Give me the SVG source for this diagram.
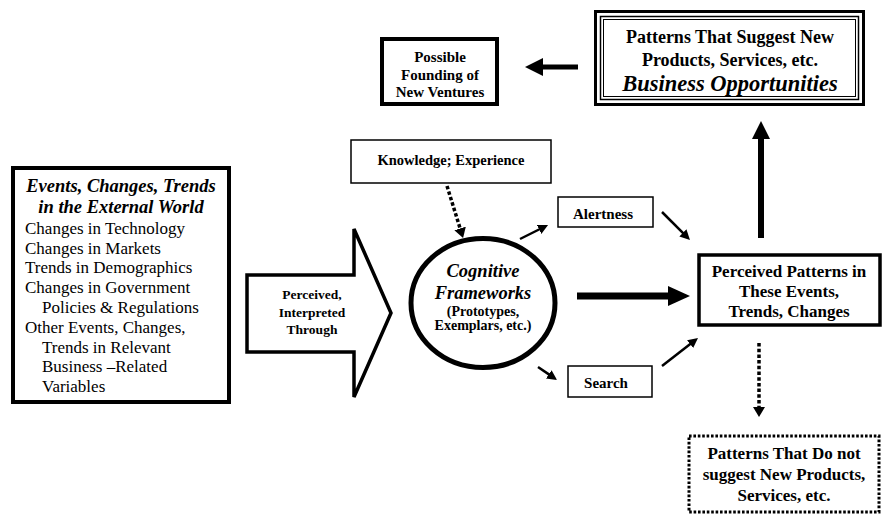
<svg xmlns="http://www.w3.org/2000/svg" width="894" height="523" viewBox="0 0 894 523">
<style>
text{font-family:"Liberation Serif","Times New Roman",serif;fill:#000}
.b{font-weight:bold;text-anchor:middle}
.bi{font-weight:bold;font-style:italic;text-anchor:middle}
.r{font-size:17px}
.box{fill:#fff;stroke:#000}
.thin{stroke:#000;stroke-width:2.5;fill:none}
.dot{stroke:#000;stroke-width:3.5;fill:none;stroke-dasharray:3.5 2.2}
</style>
<defs>
<marker id="hThin" markerUnits="userSpaceOnUse" markerWidth="12" markerHeight="12" refX="1" refY="5" orient="auto"><path d="M0,0 L10,5 L0,10 z" fill="#000"/></marker>
<marker id="hDot" markerUnits="userSpaceOnUse" markerWidth="12" markerHeight="14" refX="1" refY="6" orient="auto"><path d="M0,0 L10,6 L0,12 z" fill="#000"/></marker>
<marker id="hBig" markerUnits="userSpaceOnUse" markerWidth="20" markerHeight="20" refX="2" refY="9" orient="auto"><path d="M0,0 L18,9 L0,18 z" fill="#000"/></marker>
<marker id="hHuge" markerUnits="userSpaceOnUse" markerWidth="24" markerHeight="22" refX="2" refY="10" orient="auto"><path d="M0,0 L22,10 L0,20 z" fill="#000"/></marker>
</defs>

<g id="external-world">
<rect class="box" x="13" y="168" width="216" height="234" stroke-width="4"/>
<text class="bi" x="121" y="192" font-size="18.5">Events, Changes, Trends</text>
<text class="bi" x="121" y="213" font-size="18.5">in the External World</text>
<text class="r" x="25" y="234">Changes in Technology</text>
<text class="r" x="25" y="254">Changes in Markets</text>
<text class="r" x="25" y="273">Trends in Demographics</text>
<text class="r" x="25" y="293">Changes in Government</text>
<text class="r" x="42" y="313">Policies &amp; Regulations</text>
<text class="r" x="25" y="333">Other Events, Changes,</text>
<text class="r" x="42" y="353">Trends in Relevant</text>
<text class="r" x="42" y="372">Business –Related</text>
<text class="r" x="42" y="392">Variables</text>
</g>

<g id="perceived-through">
<polygon points="247,275 354,275 354,229 391,313 354,397 354,352 247,352" fill="#fff" stroke="#000" stroke-width="3.5" stroke-linejoin="miter"/>
<text class="b" x="312" y="299" font-size="13.5">Perceived,</text>
<text class="b" x="312" y="317" font-size="13.5">Interpreted</text>
<text class="b" x="312" y="334" font-size="13.5">Through</text>
</g>

<g id="knowledge">
<rect class="box" x="351" y="140" width="200" height="43" stroke-width="1.5"/>
<text class="b" x="451" y="165" font-size="14.5">Knowledge; Experience</text>
</g>

<g id="cognitive-frameworks">
<ellipse cx="483" cy="303" rx="72" ry="64.5" fill="#fff" stroke="#000" stroke-width="5"/>
<text class="bi" x="483" y="277" font-size="18.5">Cognitive</text>
<text class="bi" x="483" y="299" font-size="18.5">Frameworks</text>
<text class="b" x="483" y="316" font-size="14">(Prototypes,</text>
<text class="b" x="483" y="330" font-size="14">Exemplars, etc.)</text>
</g>

<g id="alertness">
<rect class="box" x="558" y="197" width="95" height="30" stroke-width="1.5"/>
<text class="b" x="603" y="219" font-size="15">Alertness</text>
</g>

<g id="search">
<rect class="box" x="568" y="366" width="84" height="31" stroke-width="1.5"/>
<text class="b" x="606" y="388" font-size="15">Search</text>
</g>

<g id="perceived-patterns">
<rect class="box" x="699" y="255" width="181" height="70" stroke-width="3.5"/>
<text class="b" x="789" y="277" font-size="17">Perceived Patterns in</text>
<text class="b" x="789" y="297" font-size="17">These Events,</text>
<text class="b" x="789" y="317" font-size="17">Trends, Changes</text>
</g>

<g id="business-opportunities">
<rect x="595.5" y="11.5" width="268" height="93" fill="#fff" stroke="#000" stroke-width="3"/>
<rect x="600.5" y="16.5" width="258" height="83" fill="none" stroke="#000" stroke-width="1.5"/>
<rect x="603.5" y="19.5" width="252" height="77" fill="none" stroke="#000" stroke-width="1"/>
<text class="b" x="730" y="43" font-size="18">Patterns That Suggest New</text>
<text class="b" x="730" y="66" font-size="18">Products, Services, etc.</text>
<text class="bi" x="730" y="91" font-size="22.5">Business Opportunities</text>
</g>

<g id="new-ventures">
<rect class="box" x="382" y="39" width="115" height="65" stroke-width="4"/>
<text class="b" x="440" y="62" font-size="15">Possible</text>
<text class="b" x="440" y="80" font-size="15">Founding of</text>
<text class="b" x="440" y="97" font-size="15">New Ventures</text>
</g>

<g id="no-opportunities">
<rect x="689" y="436" width="190" height="76" fill="#fff" stroke="#000" stroke-width="3" stroke-dasharray="2.6 1.8"/>
<text class="b" x="784" y="459" font-size="17">Patterns That Do not</text>
<text class="b" x="784" y="480" font-size="17">suggest New Products,</text>
<text class="b" x="784" y="501" font-size="17">Services, etc.</text>
</g>

<g id="connectors">
<line class="dot" x1="447" y1="186" x2="460.4" y2="229.4" marker-end="url(#hDot)"/>
<line class="thin" x1="520" y1="239" x2="540" y2="229" marker-end="url(#hThin)"/>
<line class="thin" x1="662" y1="212" x2="683.6" y2="233.6" marker-end="url(#hThin)"/>
<line class="thin" x1="538" y1="367" x2="549.6" y2="374.9" marker-end="url(#hThin)"/>
<line class="thin" x1="662" y1="366" x2="690.9" y2="343.5" marker-end="url(#hThin)"/>
<line x1="577" y1="296" x2="670" y2="296" stroke="#000" stroke-width="7" marker-end="url(#hHuge)"/>
<line x1="761" y1="238" x2="761" y2="137" stroke="#000" stroke-width="6" marker-end="url(#hBig)"/>
<line x1="578" y1="67" x2="541" y2="67" stroke="#000" stroke-width="5" marker-end="url(#hBig)"/>
<line class="dot" x1="759" y1="343" x2="759" y2="408" marker-end="url(#hDot)"/>
</g>
</svg>
